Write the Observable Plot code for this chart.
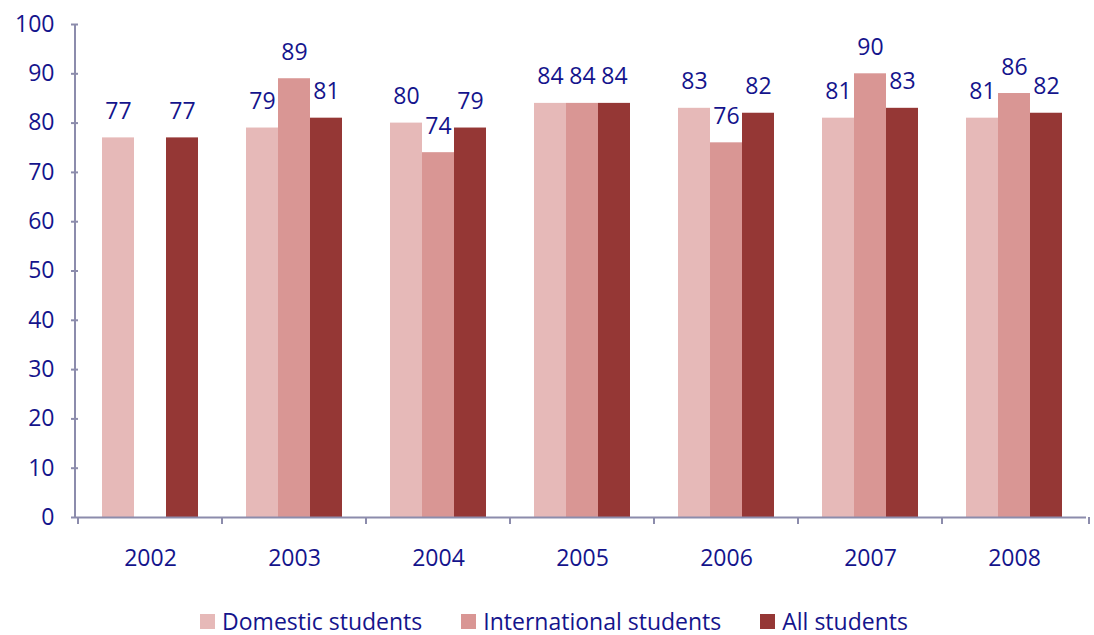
<!DOCTYPE html>
<html>
<head>
<meta charset="utf-8">
<script src="https://cdn.jsdelivr.net/npm/d3@7"></script>
<script src="https://cdn.jsdelivr.net/npm/@observablehq/plot@0.6"></script>
<style>
  html, body { margin: 0; padding: 0; background: white; overflow: hidden; }
  #chart svg { display: block; }
  #legend { display: flex; justify-content: center; align-items: center; gap: 39px; height: 22px; line-height: 22px;
    font-family: "Open Sans", sans-serif; font-size: 23px; color: #14148c; padding-left: 14px; margin-top: 18px; }
  #legend .item { display: flex; align-items: center; gap: 7px; height: 22px; }
  #legend .sw { width: 15px; height: 15px; display: inline-block; }
</style>
</head>
<body>
<div id="chart"></div>
<div id="legend"></div>
<script>
const years = ["2002", "2003", "2004", "2005", "2006", "2007", "2008"];
const series = ["Domestic students", "International students", "All students"];
const domestic = [77, 79, 80, 84, 83, 81, 81];
const international = [null, 89, 74, 84, 76, 90, 86];
const allStudents = [77, 81, 79, 84, 82, 83, 82];
const yTicks = [0, 10, 20, 30, 40, 50, 60, 70, 80, 90, 100];
const colors = ["#E6B9B8", "#D99694", "#953735"];

const textColor = "#14148c";
const axisColor = "#8c8cac";
const font = "'Open Sans', sans-serif";

const valuesBySeries = [domestic, international, allStudents];
const rows = [];
years.forEach((year, i) => {
  series.forEach((s, j) => {
    const v = valuesBySeries[j][i];
    if (v != null) rows.push({year, series: s, value: v});
  });
});

const chart = Plot.plot({
  width: 1094,
  height: 592,
  marginLeft: 75,
  marginRight: 5,
  marginTop: 24,
  marginBottom: 75,
  style: {fontFamily: font, fontSize: "23px", color: textColor, background: "white"},
  fx: {domain: years, padding: 0, label: null, axis: null},
  x: {domain: series, paddingInner: 0, paddingOuter: 0.7, axis: null},
  y: {domain: [0, 100], label: null, axis: null},
  color: {domain: series, range: colors},
  marks: [
    Plot.barY(rows, {fx: "year", x: "series", y: "value", fill: "series"}),
    Plot.text(rows, {fx: "year", x: "series", y: "value", text: d => String(d.value),
      dy: -19, lineAnchor: "bottom", fill: textColor, fontSize: 23}),
    Plot.ruleY([0], {stroke: axisColor, strokeWidth: 2}),
    Plot.axisY({ticks: yTicks, tickSize: 7, tickPadding: 17, stroke: axisColor, strokeWidth: 2,
      fill: textColor, fontSize: 23, label: null}),
    Plot.axisFx({anchor: "bottom", tickSize: 0, tickPadding: 32, fill: textColor, fontSize: 23, label: null})
  ]
});
document.getElementById("chart").appendChild(chart);

// y axis line and category separator ticks, positioned via Plot's scales
const fx = chart.scale("fx");
const ys = chart.scale("y");
const svg = d3.select(chart);
const g = svg.append("g").attr("stroke", axisColor).attr("stroke-width", 2);
const x0 = fx.range[0];
const bounds = years.map(y => fx.apply(y)).concat([fx.range[1]]);
g.append("line").attr("x1", x0).attr("x2", x0).attr("y1", ys.apply(100)).attr("y2", ys.apply(0));
bounds.forEach(b => {
  g.append("line").attr("x1", b).attr("x2", b).attr("y1", ys.apply(0)).attr("y2", ys.apply(0) + 7);
});

// legend
const legend = d3.select("#legend");
series.forEach((s, i) => {
  const item = legend.append("div").attr("class", "item");
  item.append("span").attr("class", "sw").style("background", colors[i]);
  item.append("span").text(s);
});
</script>
</body>
</html>
